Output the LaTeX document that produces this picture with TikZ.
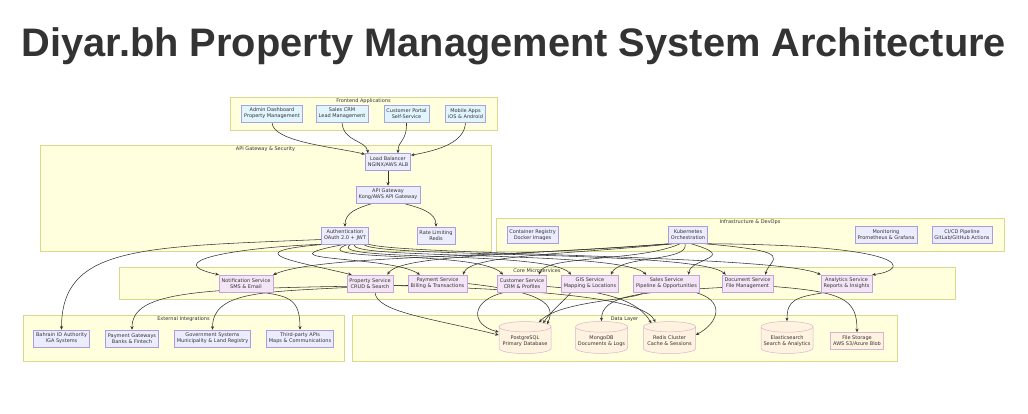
\documentclass[tikz,border=0pt]{standalone}
\usepackage{fontspec}
\setmainfont{DejaVu Sans}
\newfontfamily\titlefont{Liberation Sans}
\usetikzlibrary{shapes.geometric,arrows.meta,calc}
\pgfdeclarelayer{bg}
\pgfdeclarelayer{edges}
\pgfsetlayers{bg,edges,main}
\newcommand\ndfont{\fontsize{5}{6}\selectfont}
\definecolor{txt}{HTML}{333333}
\definecolor{clfill}{HTML}{FFFFDE}
\definecolor{cldraw}{HTML}{D9D98C}
\definecolor{feFill}{HTML}{E1F5FE}
\definecolor{feDraw}{HTML}{A9A4E0}
\definecolor{gwFill}{HTML}{ECECFF}
\definecolor{gwDraw}{HTML}{A99CE0}
\definecolor{svcFill}{HTML}{F3E5F5}
\definecolor{svcDraw}{HTML}{C8A2DC}
\definecolor{dbFill}{HTML}{FFF3E0}
\definecolor{dbDraw}{HTML}{D9B3CF}
\definecolor{edgec}{HTML}{333333}
\tikzset{
  box/.style={draw, rectangle, font=\ndfont, align=center, inner xsep=2.5pt, inner ysep=1pt, minimum height=17pt, line width=0.5pt, text=txt},
  fe/.style={box, fill=feFill, draw=feDraw},
  gw/.style={box, fill=gwFill, draw=gwDraw},
  svc/.style={box, fill=svcFill, draw=svcDraw},
  db/.style={cylinder, shape border rotate=90, aspect=0.22, draw=dbDraw, fill=dbFill, line width=0.5pt, font=\ndfont, text=txt, align=center, minimum width=52pt, minimum height=32pt, inner sep=1pt},
  cluster/.style={draw=cldraw, fill=clfill, line width=0.5pt},
  cllabel/.style={font=\ndfont, text=txt, inner sep=0pt},
  edge/.style={draw=edgec, line width=0.55pt, -{Stealth[length=3.5pt,width=3pt]}}
}
\begin{document}
\begin{tikzpicture}[x=1pt,y=-1pt]
\useasboundingbox (0,0) rectangle (1028,414);

\node[font=\titlefont\bfseries\fontsize{39.8}{45}\selectfont, text=txt, anchor=base, inner sep=0pt] (title) at (514,57) {Diyar.bh Property Management System Architecture};

% clusters
\begin{pgfonlayer}{bg}
\fill[white] (0,0) rectangle (1028,414);
\draw[cluster] (230,97) rectangle (497,130);
\node[cllabel] (lfe) at (363.5,101) {Frontend Applications};
\draw[cluster] (40,145) rectangle (491,251);
\node[cllabel] (lgw) at (265.5,149) {API Gateway \& Security};
\draw[cluster] (496,218) rectangle (1004,251);
\node[cllabel] (linf) at (750,222) {Infrastructure \& DevOps};
\draw[cluster] (119,267) rectangle (955,299);
\node[cllabel] (lcore) at (537,270.5) {Core Microservices};
\draw[cluster] (23,315) rectangle (344,361);
\node[cllabel] (lext) at (183.5,319) {External Integrations};
\draw[cluster] (352,315) rectangle (897,361);
\node[cllabel] (ldata) at (624.5,319) {Data Layer};
\end{pgfonlayer}

% frontend
\node[fe] (adm) at (272,113.5) {Admin Dashboard\\Property Management};
\node[fe] (scrm) at (342,113.5) {Sales CRM\\Lead Management};
\node[fe] (cport) at (406.5,113.5) {Customer Portal\\Self-Service};
\node[fe] (mob) at (465.5,113.5) {Mobile Apps\\iOS \& Android};
% gateway
\node[gw] (lb) at (388,162) {Load Balancer\\NGINX/AWS ALB};
\node[gw] (apigw) at (388,194.5) {API Gateway\\Kong/AWS API Gateway};
\node[gw] (auth) at (345,235.5) {Authentication\\OAuth 2.0 + JWT};
\node[gw] (rate) at (436,235.5) {Rate Limiting\\Redis};
% infra
\node[gw] (creg) at (532.5,235) {Container Registry\\Docker Images};
\node[gw] (kube) at (688,235) {Kubernetes\\Orchestration};
\node[gw] (mon) at (886,235) {Monitoring\\Prometheus \& Grafana};
\node[gw] (cicd) at (962,235) {CI/CD Pipeline\\GitLab/GitHub Actions};
% services
\node[svc] (notif) at (246,283.5) {Notification Service\\SMS \& Email};
\node[svc] (prop) at (370,283.5) {Property Service\\CRUD \& Search};
\node[svc] (pay) at (437.5,283.5) {Payment Service\\Billing \& Transactions};
\node[svc] (cust) at (522,283.5) {Customer Service\\CRM \& Profiles};
\node[svc] (gis) at (590,283.5) {GIS Service\\Mapping \& Locations};
\node[svc] (sales) at (666.5,283.5) {Sales Service\\Pipeline \& Opportunities};
\node[svc] (doc) at (747.5,283.5) {Document Service\\File Management};
\node[svc] (anal) at (846.5,283.5) {Analytics Service\\Reports \& Insights};
% external
\node[gw] (bah) at (61.5,338.5) {Bahrain ID Authority\\IGA Systems};
\node[gw] (pgw) at (132,338.5) {Payment Gateways\\Banks \& Fintech};
\node[gw] (gov) at (212.5,338.5) {Government Systems\\Municipality \& Land Registry};
\node[gw] (third) at (300,338.5) {Third-party APIs\\Maps \& Communications};
% data
\node[db] (pgsql) at (525,341) {PostgreSQL\\Primary Database};
\node[db] (mongo) at (601.5,341) {MongoDB\\Documents \& Logs};
\node[db] (redis) at (669.5,341) {Redis Cluster\\Cache \& Sessions};
\node[db] (es) at (787,341) {Elasticsearch\\Search \& Analytics};
\node[box, fill=dbFill, draw=dbDraw] (fs) at (857,341) {File Storage\\AWS S3/Azure Blob};

\begin{pgfonlayer}{edges}
% frontend -> lb
\draw[edge] (adm.south) .. controls (272,142) and (335,147) .. ($(lb.north west)+(0,1)$);
\draw[edge] (scrm.south) .. controls (343,142) and (366,140) .. ($(lb.north west)+(3,0)$);
\draw[edge] (cport.south) .. controls (407,142) and (398,140) .. ($(lb.north)+(10,0)$);
\draw[edge] (mob.south) .. controls (465,142) and (440,150) .. ($(lb.north east)+(0,2)$);
\draw[edge] (lb.south) -- (apigw.north);
\draw[edge] ($(apigw.south)+(-15,0)$) .. controls (358,208) and (345,212) .. (auth.north);
\draw[edge] ($(apigw.south)+(15,0)$) .. controls (420,208) and (436,212) .. (rate.north);
% auth -> services
\draw[edge] (auth.south west) .. controls (230,248) and (160,262) .. (notif.north west);
\draw[edge] ($(auth.south west)+(4,0)$) .. controls (230,252) and (300,262) .. ($(prop.north west)+(5,0)$);
\draw[edge] (auth.south) .. controls (250,262) and (390,255) .. ($(pay.north west)+(12,0)$);
\draw[edge] ($(auth.south)+(3,0)$) .. controls (300,262) and (480,250) .. ($(cust.north west)+(6,0)$);
\draw[edge] ($(auth.south)+(6,0)$) .. controls (320,262) and (550,250) .. ($(gis.north west)+(10,0)$);
\draw[edge] ($(auth.south)+(10,0)$) .. controls (340,260) and (620,250) .. ($(sales.north west)+(13,0)$);
\draw[edge] ($(auth.south east)+(-5,0)$) .. controls (370,258) and (700,250) .. ($(doc.north west)+(4,0)$);
\draw[edge] (auth.south east) .. controls (400,255) and (780,255) .. (anal.north west);
\draw[edge] ($(auth.west)+(0,4)$) .. controls (140,247) and (61.5,246) .. (bah.north);
% kube -> services
\draw[edge] (kube.south west) .. controls (500,258) and (320,255) .. (notif.north east);
\draw[edge] ($(kube.south west)+(3,0)$) .. controls (520,255) and (400,255) .. ($(prop.north east)+(-6,0)$);
\draw[edge] ($(kube.south west)+(6,0)$) .. controls (560,255) and (470,255) .. ($(pay.north east)+(-4,0)$);
\draw[edge] ($(kube.south)+(-8,0)$) .. controls (640,262) and (545,255) .. ($(cust.north east)+(-8,0)$);
\draw[edge] ($(kube.south)+(-3,0)$) .. controls (690,262) and (620,255) .. ($(gis.north east)+(-8,0)$);
\draw[edge] ($(kube.south)+(3,0)$) .. controls (740,258) and (690,258) .. ($(sales.north east)+(-11,0)$);
\draw[edge] ($(kube.south east)+(-3,0)$) .. controls (800,252) and (770,258) .. ($(doc.north east)+(-8,0)$);
\draw[edge] (kube.south east) .. controls (915,245) and (910,270) .. (anal.north east);
% services -> external
\draw[edge] ($(prop.west)+(0,4)$) .. controls (260,292) and (212.5,292) .. (gov.north);
\draw[edge] ($(pay.west)+(0,2)$) .. controls (200,288) and (132,290) .. (pgw.north);
\draw[edge] ($(notif.south)+(15,0)$) .. controls (290,296) and (300,300) .. (third.north);
% services -> data
\draw[edge] ($(prop.south)+(5,0)$) .. controls (376,312) and (430,318) .. ($(pgsql.west)+(0,-6)$);
\draw[edge] ($(cust.south west)+(8,0)$) .. controls (470,300) and (470,325) .. ($(pgsql.west)+(0,-9)$);
\draw[edge] ($(gis.south west)+(10,0)$) .. controls (560,305) and (552,310) .. ($(pgsql.north)+(18,2)$);
\draw[edge] (pay.east) .. controls (545,292) and (556,305) .. ($(pgsql.north)+(22,3)$);
\draw[edge] ($(sales.south west)+(10,0)$) .. controls (640,300) and (560,300) .. ($(pgsql.north)+(14,1)$);
\draw[edge] ($(cust.east)+(0,3)$) .. controls (620,292) and (640,305) .. ($(redis.north)+(-18,2)$);
\draw[edge] ($(prop.east)+(0,2)$) .. controls (560,290) and (645,300) .. ($(redis.north)+(-14,1)$);
\draw[edge] ($(sales.south east)+(-5,0)$) .. controls (725,300) and (720,322) .. ($(redis.east)+(0,-6)$);
\draw[edge] ($(doc.west)+(0,4)$) .. controls (640,292) and (601.5,295) .. (mongo.north);
\draw[edge] ($(doc.east)+(0,3)$) .. controls (845,292) and (857,300) .. (fs.north);
\draw[edge] ($(anal.south west)+(6,0)$) .. controls (795,297) and (787,300) .. (es.north);
\end{pgfonlayer}
\end{tikzpicture}
\end{document}
